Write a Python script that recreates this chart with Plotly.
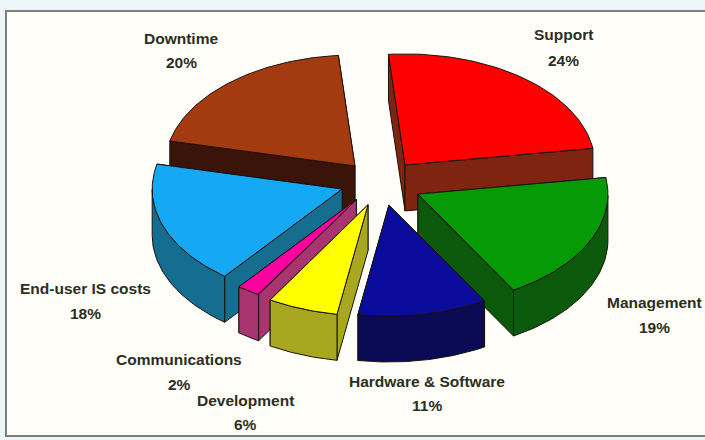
import numpy as np
import plotly.graph_objects as go

# --- data
categories = ["Support", "Management", "Hardware & Software", "Development",
              "Communications", "End-user IS costs", "Downtime"]
values = [24, 19, 11, 6, 2, 18, 20]

# --- style
top_colors = ["#FF0000", "#069A06", "#0C0C9C", "#FFFF00", "#FF00A0", "#14A8F5", "#A33A10"]
wall_colors = ["#7F2410", "#0B5A0B", "#0A0A55", "#A8A820", "#A83570", "#156E90", "#3A1408"]
pull_x = [0.23, 0.233, 0.32, 0.152, 0.20, 0.20, 0.185]
pull_y = [0.23, 0.19, 0.183, 0.19, 0.16, 0.11, 0.227]
draw_order = [6, 0, 5, 1, 4, 3, 2]
label_pos = {
    "Support": (563, 34, 60), "Management": (654, 302, 327),
    "Hardware & Software": (427, 381, 405), "Development": (245, 400, 424),
    "Communications": (179, 359, 384), "End-user IS costs": (85, 288, 313),
    "Downtime": (181, 38, 62),
}
CX, CY, RX, RY, DEPTH, START = 378, 185, 190, 111, 46, 95.0
FONT = "Liberation Sans, Arial, sans-serif"


def ell(apex, deg):
    t = np.radians(deg)
    return apex[0] + RX * np.cos(t), apex[1] - RY * np.sin(t)


def poly(xs, ys, fill, line="#1A120C", width=1):
    return go.Scatter(x=list(xs) + [xs[0]], y=list(ys) + [ys[0]], mode="lines", fill="toself",
                      fillcolor=fill, line=dict(color=line, width=width),
                      hoverinfo="skip", showlegend=False)


# angular span of each slice, running clockwise
spans = []
angle = START
for v in values:
    spans.append((angle, angle - v * 3.6))
    angle -= v * 3.6

fig = go.Figure()
for i in draw_order:
    a0, a1 = spans[i]
    mid = np.radians((a0 + a1) / 2)
    apex = (CX + pull_x[i] * RX * np.cos(mid), CY - pull_y[i] * RY * np.sin(mid))
    arc = np.linspace(a0, a1, 60)
    ax, ay = ell(apex, arc)

    # radial side walls, farther one first
    walls = []
    for px, py in ((ax[0], ay[0]), (ax[-1], ay[-1])):
        walls.append(([apex[0], px, px, apex[0]],
                      [apex[1], py, py + DEPTH, apex[1] + DEPTH]))
    walls.sort(key=lambda w: np.mean(w[1]))
    for xs, ys in walls:
        fig.add_trace(poly(xs, ys, wall_colors[i]))

    # curved wall: only the part of the rim that faces the viewer
    norm = [((d + 180) % 360) - 180 for d in arc]
    front = np.array([d for d in norm if -180 <= d <= 0])
    if front.size > 1:
        fx, fy = ell(apex, front)
        fig.add_trace(poly(np.r_[fx, fx[::-1]], np.r_[fy, fy[::-1] + DEPTH], wall_colors[i]))

    # top face
    fig.add_trace(poly(np.r_[apex[0], ax], np.r_[apex[1], ay], top_colors[i]))

annotations = []
for name, v in zip(categories, values):
    x, y1, y2 = label_pos[name]
    for text, y in ((name, y1), (f"{v}%", y2)):
        annotations.append(dict(x=x, y=y, text=f"<b>{text}</b>", showarrow=False,
                                xanchor="center", yanchor="middle",
                                font=dict(family=FONT, size=15.5, color="#2B2F22")))

fig.update_layout(
    width=705, height=440, margin=dict(l=0, r=0, t=0, b=0),
    paper_bgcolor="#EEF5F8", plot_bgcolor="rgba(0,0,0,0)",
    xaxis=dict(range=[0, 705], visible=False, fixedrange=True),
    yaxis=dict(range=[440, 0], visible=False, fixedrange=True),
    showlegend=False, annotations=annotations,
    shapes=[dict(type="rect", layer="below", xref="x", yref="y", x0=6, y0=11, x1=712, y1=436,
                 fillcolor="#FFFEF8", line=dict(color="#7A7F78", width=2))],
)
fig.write_html("out.html", config={"displayModeBar": False},
               post_script="document.body.style.margin='0';document.body.style.overflow='hidden';")
